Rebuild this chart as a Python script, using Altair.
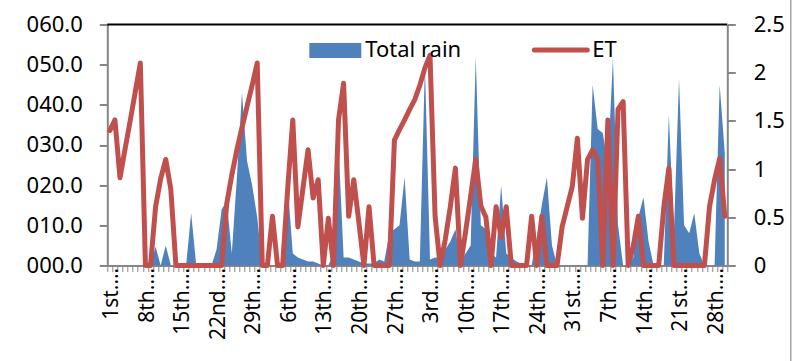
import altair as alt
import pandas as pd

# ---- data ----
day_labels = ["1st.", "8th.", "15th.", "22nd.", "29th.", "6th.", "13th.", "20th.", "27th.",
              "3rd.", "10th.", "17th.", "24th.", "31st.", "7th.", "14th.", "21st.", "28th."]

total_rain = [
    0, 0, 0, 0, 0, 0, 0, 0, 0, 4.7,          # 0-9
    0, 5.0, 0, 0, 0, 0, 13, 0, 0, 0,         # 10-19
    0, 4, 14, 16, 3, 22, 43, 26, 20, 12,     # 20-29
    0, 0, 0, 0, 0, 20, 3, 2, 1.5, 1,         # 30-39
    1, 0.5, 0, 0, 3, 30, 2, 2, 1.5, 1,       # 40-49
    0.5, 0.5, 0.5, 1.5, 1, 8, 9, 10, 22, 1.5,  # 50-59
    1, 1, 50, 1.5, 2, 2, 4, 6, 9, 1,         # 60-69
    3, 5, 52, 10, 9, 3, 2, 20, 3, 2,         # 70-79
    1, 0.5, 0, 0, 7, 15, 22, 5, 0, 0,        # 80-89
    0, 0, 0, 0, 0, 45, 34, 33, 25, 51.5,     # 90-99
    10, 0, 0, 2, 12, 17, 6, 0, 0, 0,         # 100-109
    37.5, 8, 46.5, 10, 8, 13, 3, 0, 0, 0,    # 110-119
    45, 28,                                  # 120-121
]

et = [
    1.40, 1.51, 0.91, 1.21, 1.50, 1.80, 2.10, 0, 0, 0.61,        # 0-9
    0.90, 1.10, 0.79, 0, 0, 0, 0, 0, 0, 0,                       # 10-19
    0, 0, 0, 0.64, 0.94, 1.20, 1.43, 1.65, 1.87, 2.10,           # 20-29
    0, 0, 0.51, 0, 0, 0.80, 1.51, 0.40, 0.80, 1.20,              # 30-39
    0.70, 0.89, 0, 0.49, 0, 1.51, 1.89, 0.51, 0.89, 0.45,        # 40-49
    0, 0.61, 0, 0, 0, 0, 1.30, 1.41, 1.51, 1.62,                 # 50-59
    1.72, 1.87, 2.05, 2.18, 0.51, 0, 0.27, 0.61, 1.01, 0,        # 60-69
    0.35, 0.72, 1.10, 0.62, 0.50, 0, 0.61, 0.29, 0.61, 0,        # 70-79
    0, 0, 0, 0.51, 0, 0.51, 0, 0, 0, 0.40,                       # 80-89
    0.61, 0.82, 1.32, 0.49, 1.10, 1.20, 1.10, 0, 1.51, 0,        # 90-99
    1.62, 1.70, 0, 0.20, 0.51, 0, 0, 0, 0, 0.60,                 # 100-109
    1.01, 0, 0, 0, 0, 0, 0, 0, 0.61, 0.89,                       # 110-119
    1.11, 0.51,                                                  # 120-121
]

assert len(total_rain) == len(et) == 122

n = len(et)
df = pd.DataFrame({
    "pos": [i + 0.5 for i in range(n)],   # category centres between day tick marks
    "rain": total_rain,
    "et": et,
})
one = pd.DataFrame({"k": [0]})

FONT = "Noto Sans"
GREY = "#868686"
BLUE = "#4F81BD"
RED = "#C0504D"

W, H = 620, 241

label_values = [2 + 7 * k for k in range(len(day_labels))]
label_array = "[" + ",".join("'" + s + "'" for s in day_labels) + "]"
label_expr = label_array + "[round((datum.value - 2) / 7)] + '\u2026'"

x_scale = alt.Scale(domain=[0, n], nice=False, zero=False)

# axis with a small tick for every day, no labels
x_ticks_axis = alt.Axis(
    orient="bottom",
    values=list(range(0, n + 1)),
    labels=False,
    tickSize=6,
    tickColor=GREY,
    tickWidth=1,
    domainColor=GREY,
    domainWidth=2,
    grid=False,
    title=None,
)
# axis that only carries the weekly labels
x_label_axis = alt.Axis(
    orient="bottom",
    values=label_values,
    labelExpr=label_expr,
    labelAngle=-90,
    labelAlign="right",
    labelBaseline="alphabetic",
    labelFontSize=21,
    labelFont=FONT,
    labelColor="black",
    labelPadding=2,
    labelOverlap=False,
    labelBound=False,
    labelFlush=False,
    ticks=False,
    domain=False,
    grid=False,
    title=None,
)

area = alt.Chart(df).mark_area(color=BLUE, opacity=1, interpolate="linear").encode(
    x=alt.X("pos:Q", scale=x_scale, axis=x_ticks_axis),
    y=alt.Y(
        "rain:Q",
        scale=alt.Scale(domain=[0, 60], nice=False),
        axis=alt.Axis(
            orient="left",
            values=[0, 10, 20, 30, 40, 50, 60],
            format="05.1f",
            labelFontSize=22,
            labelFont=FONT,
            labelColor="black",
            labelPadding=17,
            tickSize=8,
            tickColor=GREY,
            tickWidth=2,
            domainColor=GREY,
            domainWidth=2,
            grid=False,
            title=None,
        ),
    ),
)

line = alt.Chart(df).mark_line(color=RED, strokeWidth=5, strokeJoin="round", strokeCap="round").encode(
    x=alt.X("pos:Q", scale=x_scale, axis=x_label_axis),
    y=alt.Y(
        "et:Q",
        scale=alt.Scale(domain=[0, 2.5], nice=False),
        axis=alt.Axis(
            orient="right",
            values=[0, 0.5, 1, 1.5, 2, 2.5],
            format="~g",
            labelFontSize=22,
            labelFont=FONT,
            labelColor="black",
            labelPadding=18,
            tickSize=8,
            tickColor=GREY,
            tickWidth=2,
            domainColor=GREY,
            domainWidth=2,
            grid=False,
            title=None,
        ),
    ),
)

# plot-area frame top (black) and the chart's outer border on the right
top_rule = alt.Chart(one).mark_rule(color="black", strokeWidth=2).encode(
    x=alt.value(0), x2=alt.value(W), y=alt.value(0)
)
outer_rule = alt.Chart(one).mark_rule(color="#A6A6A6", strokeWidth=1.5).encode(
    x=alt.value(683.5), y=alt.value(-25), y2=alt.value(337)
)

# legend drawn inside the plot area
leg_rect = alt.Chart(one).mark_rect(color=BLUE).encode(
    x=alt.value(202), x2=alt.value(254), y=alt.value(18.5), y2=alt.value(33.5)
)
leg_rain_txt = alt.Chart(one).mark_text(
    text="Total rain", align="left", baseline="middle", font=FONT, fontSize=22, color="black"
).encode(x=alt.value(258), y=alt.value(25.5))
leg_line = alt.Chart(one).mark_rule(color=RED, strokeWidth=5, strokeCap="round").encode(
    x=alt.value(427), x2=alt.value(480), y=alt.value(25.5)
)
leg_et_txt = alt.Chart(one).mark_text(
    text="ET", align="left", baseline="middle", font=FONT, fontSize=22, color="black"
).encode(x=alt.value(485), y=alt.value(25.5))

chart = alt.layer(
    area, line, top_rule, outer_rule, leg_rect, leg_rain_txt, leg_line, leg_et_txt
).resolve_scale(y="independent").resolve_axis(x="independent", y="independent").properties(
    width=W,
    height=H,
    autosize=alt.AutoSizeParams(type="none"),
    padding={"left": 107.3, "top": 24.5, "right": 75.7, "bottom": 95.3},
    background="white",
).configure_view(stroke=None)

chart.save("out.html", embed_options={"renderer": "svg", "actions": False})
